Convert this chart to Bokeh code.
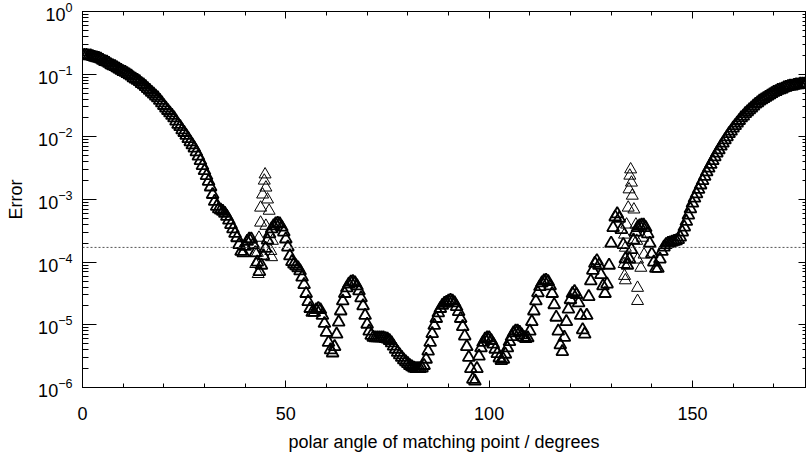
from bokeh.plotting import figure
from bokeh.models import (LinearAxis, LogAxis, LogTicker, SingleIntervalTicker, Span,
                          CustomLabelingPolicy, CustomJSTickFormatter)
from bokeh.embed import file_html
from bokeh.resources import INLINE

# ---- data ----
angle = [
    0, 0.5, 1, 1.5, 2, 2.5, 3, 3.5, 4, 4.5, 5, 5.5, 6, 6.5, 7, 7.5, 8, 8.5, 9, 9.5,
    10, 10.5, 11, 11.5, 12, 12.5, 13, 13.5, 14, 14.5, 15, 15.5, 16, 16.5, 17, 17.5, 18, 18.5, 19, 19.5,
    20, 20.5, 21, 21.5, 22, 22.5, 23, 23.5, 24, 24.5, 25, 25.5, 26, 26.5, 27, 27.5, 28, 28.5, 29, 29.5,
    30, 30.5, 31, 31.5, 32, 32.5, 33, 33.5, 34, 34.5, 35, 35.5, 36, 36.5, 37, 37.5, 38, 38.5, 39, 39.5,
    40, 40.5, 41, 41.5, 42, 42.5, 43, 43.5, 44, 44.5, 45, 45.5, 46, 46.5, 47, 47.5, 48, 48.5, 49, 49.5,
    50, 50.5, 51, 51.5, 52, 52.5, 53, 53.5, 54, 54.5, 55, 55.5, 56, 56.5, 57, 57.5, 58, 58.5, 59, 59.5,
    60, 60.5, 61, 61.5, 62, 62.5, 63, 63.5, 64, 64.5, 65, 65.5, 66, 66.5, 67, 67.5, 68, 68.5, 69, 69.5,
    70, 70.5, 71, 71.5, 72, 72.5, 73, 73.5, 74, 74.5, 75, 75.5, 76, 76.5, 77, 77.5, 78, 78.5, 79, 79.5,
    80, 80.5, 81, 81.5, 82, 82.5, 83, 83.5, 84, 84.5, 85, 85.5, 86, 86.5, 87, 87.5, 88, 88.5, 89, 89.5,
    90, 90.5, 91, 91.5, 92, 92.5, 93, 93.5, 94, 94.5, 95, 95.5, 96, 96.5, 97, 97.5, 98, 98.5, 99, 99.5,
    100, 100.5, 101, 101.5, 102, 102.5, 103, 103.5, 104, 104.5, 105, 105.5, 106, 106.5, 107, 107.5, 108, 108.5, 109, 109.5,
    110, 110.5, 111, 111.5, 112, 112.5, 113, 113.5, 114, 114.5, 115, 115.5, 116, 116.5, 117, 117.5, 118, 118.5, 119, 119.5,
    120, 120.5, 121, 121.5, 122, 122.5, 123, 123.5, 124, 124.5, 125, 125.5, 126, 126.5, 127, 127.5, 128, 128.5, 129, 129.5,
    130, 130.5, 131, 131.5, 132, 132.5, 133, 133.5, 134, 134.5, 135, 135.5, 136, 136.5, 137, 137.5, 138, 138.5, 139, 139.5,
    140, 140.5, 141, 141.5, 142, 142.5, 143, 143.5, 144, 144.5, 145, 145.5, 146, 146.5, 147, 147.5, 148, 148.5, 149, 149.5,
    150, 150.5, 151, 151.5, 152, 152.5, 153, 153.5, 154, 154.5, 155, 155.5, 156, 156.5, 157, 157.5, 158, 158.5, 159, 159.5,
    160, 160.5, 161, 161.5, 162, 162.5, 163, 163.5, 164, 164.5, 165, 165.5, 166, 166.5, 167, 167.5, 168, 168.5, 169, 169.5,
    170, 170.5, 171, 171.5, 172, 172.5, 173, 173.5, 174, 174.5, 175, 175.5, 176, 176.5, 177, 177.5, 178,
]

error = [
    2.00e-1, 2.00e-1, 2.00e-1, 1.95e-1, 1.95e-1, 1.91e-1, 1.86e-1, 1.82e-1, 1.78e-1, 1.74e-1,
    1.66e-1, 1.58e-1, 1.55e-1, 1.48e-1, 1.41e-1, 1.35e-1, 1.32e-1, 1.26e-1, 1.20e-1, 1.15e-1,
    1.10e-1, 1.07e-1, 1.02e-1, 9.77e-2, 9.33e-2, 8.71e-2, 8.32e-2, 7.94e-2, 7.59e-2, 7.08e-2,
    6.76e-2, 6.31e-2, 5.89e-2, 5.50e-2, 5.13e-2, 4.79e-2, 4.47e-2, 4.17e-2, 3.80e-2, 3.47e-2,
    3.16e-2, 2.88e-2, 2.63e-2, 2.40e-2, 2.19e-2, 2.00e-2, 1.78e-2, 1.58e-2, 1.45e-2, 1.29e-2,
    1.17e-2, 1.05e-2, 9.33e-3, 8.32e-3, 7.41e-3, 6.61e-3, 5.75e-3, 4.90e-3, 4.17e-3, 3.47e-3,
    2.88e-3, 2.40e-3, 1.95e-3, 1.58e-3, 1.20e-3, 9.33e-4, 7.76e-4, 7.08e-4, 6.76e-4, 6.46e-4,
    6.03e-4, 5.37e-4, 4.68e-4, 3.98e-4, 3.39e-4, 2.88e-4, 2.45e-4, 1.91e-4, 1.48e-4, 1.41e-4,
    1.78e-4, 2.14e-4, 2.34e-4, 2.34e-4, 1.91e-4, 1.41e-4, 1.00e-4, 7.08e-5, 8.91e-5, 1.26e-4,
    1.66e-4, 2.24e-4, 2.82e-4, 3.39e-4, 3.80e-4, 4.07e-4, 4.17e-4, 4.07e-4, 3.63e-4, 3.02e-4,
    2.34e-4, 1.74e-4, 1.26e-4, 1.02e-4, 9.33e-5, 8.71e-5, 8.13e-5, 7.24e-5, 5.75e-5, 4.37e-5,
    3.16e-5, 2.34e-5, 1.82e-5, 1.58e-5, 1.58e-5, 1.74e-5, 1.82e-5, 1.74e-5, 1.41e-5, 1.05e-5,
    7.59e-6, 5.25e-6, 3.98e-6, 3.55e-6, 4.47e-6, 7.08e-6, 1.10e-5, 1.66e-5, 2.40e-5, 3.16e-5,
    3.89e-5, 4.47e-5, 4.79e-5, 4.90e-5, 4.68e-5, 4.17e-5, 3.47e-5, 2.69e-5, 2.00e-5, 1.41e-5,
    1.02e-5, 7.94e-6, 6.76e-6, 6.31e-6, 6.17e-6, 6.17e-6, 6.17e-6, 6.17e-6, 6.17e-6, 6.03e-6,
    5.89e-6, 5.62e-6, 5.13e-6, 4.57e-6, 4.07e-6, 3.63e-6, 3.31e-6, 3.02e-6, 2.75e-6, 2.57e-6,
    2.40e-6, 2.24e-6, 2.14e-6, 2.04e-6, 2.00e-6, 2.00e-6, 2.00e-6, 2.04e-6, 2.24e-6, 2.82e-6,
    3.80e-6, 5.25e-6, 7.24e-6, 9.77e-6, 1.26e-5, 1.55e-5, 1.82e-5, 2.04e-5, 2.19e-5, 2.29e-5,
    2.40e-5, 2.45e-5, 2.40e-5, 2.24e-5, 1.95e-5, 1.62e-5, 1.26e-5, 9.33e-6, 6.61e-6, 4.47e-6,
    3.02e-6, 2.00e-6, 1.35e-6, 1.26e-6, 2.00e-6, 3.16e-6, 4.27e-6, 5.25e-6, 5.89e-6, 6.17e-6,
    6.17e-6, 5.62e-6, 4.90e-6, 4.07e-6, 3.47e-6, 2.95e-6, 2.69e-6, 2.82e-6, 3.39e-6, 4.27e-6,
    5.37e-6, 6.46e-6, 7.41e-6, 7.94e-6, 7.94e-6, 7.59e-6, 6.92e-6, 6.31e-6, 6.03e-6, 6.17e-6,
    7.94e-6, 1.12e-5, 1.66e-5, 2.40e-5, 3.24e-5, 4.07e-5, 4.68e-5, 5.01e-5, 5.13e-5, 4.90e-5,
    4.17e-5, 3.16e-5, 2.09e-5, 1.32e-5, 7.94e-6, 4.79e-6, 3.72e-6, 6.31e-6, 1.12e-5, 1.78e-5,
    2.51e-5, 3.16e-5, 3.39e-5, 3.02e-5, 2.24e-5, 1.41e-5, 8.32e-6, 7.08e-6, 1.41e-5, 2.82e-5,
    5.01e-5, 7.41e-5, 9.55e-5, 1.05e-4, 8.91e-5, 6.31e-5, 4.17e-5, 3.16e-5, 4.47e-5, 8.91e-5,
    2.00e-4, 3.55e-4, 5.25e-4, 5.89e-4, 5.01e-4, 3.31e-4, 1.91e-4, 1.12e-4, 8.91e-5, 1.12e-4,
    1.58e-4, 2.24e-4, 3.02e-4, 3.55e-4, 3.80e-4, 3.89e-4, 3.89e-4, 3.55e-4, 2.82e-4, 2.00e-4,
    1.35e-4, 1.00e-4, 7.94e-5, 7.94e-5, 1.12e-4, 1.48e-4, 1.74e-4, 1.91e-4, 2.00e-4, 2.04e-4,
    2.09e-4, 2.14e-4, 2.19e-4, 2.29e-4, 2.51e-4, 3.02e-4, 3.63e-4, 4.47e-4, 5.62e-4, 7.08e-4,
    8.71e-4, 1.05e-3, 1.23e-3, 1.45e-3, 1.70e-3, 2.00e-3, 2.34e-3, 2.75e-3, 3.16e-3, 3.63e-3,
    4.17e-3, 4.79e-3, 5.50e-3, 6.17e-3, 7.08e-3, 7.94e-3, 8.91e-3, 1.00e-2, 1.12e-2, 1.23e-2,
    1.38e-2, 1.51e-2, 1.66e-2, 1.82e-2, 2.00e-2, 2.14e-2, 2.34e-2, 2.51e-2, 2.69e-2, 2.88e-2,
    3.09e-2, 3.31e-2, 3.47e-2, 3.72e-2, 3.89e-2, 4.07e-2, 4.27e-2, 4.47e-2, 4.68e-2, 4.90e-2,
    5.13e-2, 5.25e-2, 5.50e-2, 5.62e-2, 5.75e-2, 6.03e-2, 6.17e-2, 6.31e-2, 6.46e-2, 6.46e-2,
    6.61e-2, 6.76e-2, 6.76e-2, 6.92e-2, 6.92e-2, 6.92e-2, 7.08e-2,
]

# scattered points near 45 degrees
spike1_angle = [42.6, 43.0, 43.2, 43.4, 43.8, 43.8, 44.3, 44.7, 44.9, 45.1, 45.1, 45.5, 45.9, 46.3, 46.5, 46.7]
spike1_error = [9.33e-5, 1.41e-4, 6.46e-5, 2.45e-4, 7.41e-4, 4.27e-4, 1.20e-3, 2.00e-3, 2.51e-3, 1.55e-3,
                3.80e-4, 1.00e-3, 6.61e-4, 1.51e-4, 1.20e-4, 2.19e-4]

# scattered points near 135 degrees
spike2_angle = [134.8, 134.6, 135.0, 134.4, 135.2, 134.2, 135.6, 133.8, 136.1, 133.3, 136.3,
                133.5, 136.5, 133.2, 133.3, 133.5, 136.5, 136.5, 137.7, 138.1, 137.3]
spike2_error = [3.02e-3, 2.40e-3, 1.86e-3, 1.45e-3, 1.15e-3, 7.41e-4, 6.92e-4, 3.98e-4, 3.98e-4, 2.75e-4, 2.19e-4,
                1.70e-4, 1.10e-4, 9.33e-5, 6.03e-5, 5.13e-5, 3.89e-5, 2.40e-5, 2.45e-4, 1.32e-4, 8.13e-5]

threshold = 1.72e-4

x_ticks_interval = 50
x_title = "polar angle of matching point / degrees"
y_title = "Error"

FONT = "Liberation Sans"
X_MIN, X_MAX = 0, 177.8
Y_MIN, Y_MAX = 1e-6, 1.0

p = figure(width=806, height=455, x_range=(X_MIN, X_MAX), y_range=(Y_MIN, Y_MAX),
           y_axis_type="log", output_backend="svg", toolbar_location=None,
           min_border_left=82, min_border_right=1, min_border_top=11, min_border_bottom=68)
p.background_fill_color = "white"
p.border_fill_color = "white"
p.grid.visible = False
p.outline_line_color = "black"
p.outline_line_width = 1

p.scatter(angle, error, marker="triangle", size=12, fill_color=None,
          line_color="black", line_width=1.8)
p.scatter(spike1_angle + spike2_angle, spike1_error + spike2_error, marker="triangle",
          size=12, fill_color=None, line_color="black", line_width=1)

p.add_layout(Span(location=threshold, dimension="width", line_color="#555555",
                  line_width=1, line_dash="2 2"))

# bottom axis
xa = p.xaxis[0]
xa.ticker = SingleIntervalTicker(interval=x_ticks_interval, num_minor_ticks=5)
xa.major_tick_in = 7
xa.major_tick_out = 0
xa.minor_tick_in = 4
xa.minor_tick_out = 0
xa.axis_line_color = "black"
xa.major_tick_line_color = "black"
xa.minor_tick_line_color = "black"
xa.major_label_text_font = FONT
xa.major_label_text_font_size = "18px"
xa.major_label_text_color = "black"
xa.major_label_standoff = 19
xa.axis_label = x_title
xa.axis_label_text_font = FONT
xa.axis_label_text_font_size = "18px"
xa.axis_label_text_font_style = "normal"
xa.axis_label_text_color = "black"
xa.axis_label_standoff = 9

# left axis
ya = p.yaxis[0]
ya.ticker = LogTicker(num_minor_ticks=10)
ya.major_tick_in = 14
ya.major_tick_out = 0
ya.minor_tick_in = 6
ya.minor_tick_out = 0
ya.axis_line_color = "black"
ya.major_tick_line_color = "black"
ya.minor_tick_line_color = "black"
ya.major_label_text_font = FONT
ya.major_label_text_font_size = "18px"
ya.major_label_text_color = "black"
ya.major_label_standoff = 10
ya.axis_label = y_title
ya.axis_label_text_font = FONT
ya.axis_label_text_font_size = "18px"
ya.axis_label_text_font_style = "normal"
ya.axis_label_text_color = "black"
ya.axis_label_standoff = 9

# top axis (ticks only)
ta = LinearAxis(ticker=SingleIntervalTicker(interval=x_ticks_interval, num_minor_ticks=5),
                major_tick_in=7, major_tick_out=0, minor_tick_in=4, minor_tick_out=0,
                formatter=CustomJSTickFormatter(code="return ''"),
                major_label_policy=CustomLabelingPolicy(code="""
for (const i of indices) indices.unset(i)
return indices
"""), major_label_standoff=0,
                axis_line_color="black")
p.add_layout(ta, "above")

# right axis (ticks only)
ra = LogAxis(ticker=LogTicker(num_minor_ticks=10),
             major_tick_in=7, major_tick_out=0, minor_tick_in=3, minor_tick_out=0,
             formatter=CustomJSTickFormatter(code="return ''"),
             major_label_policy=CustomLabelingPolicy(code="""
for (const i of indices) indices.unset(i)
return indices
"""), major_label_standoff=0,
             axis_line_color="black")
p.add_layout(ra, "right")

open("out.html", "w").write(file_html(p, INLINE))
